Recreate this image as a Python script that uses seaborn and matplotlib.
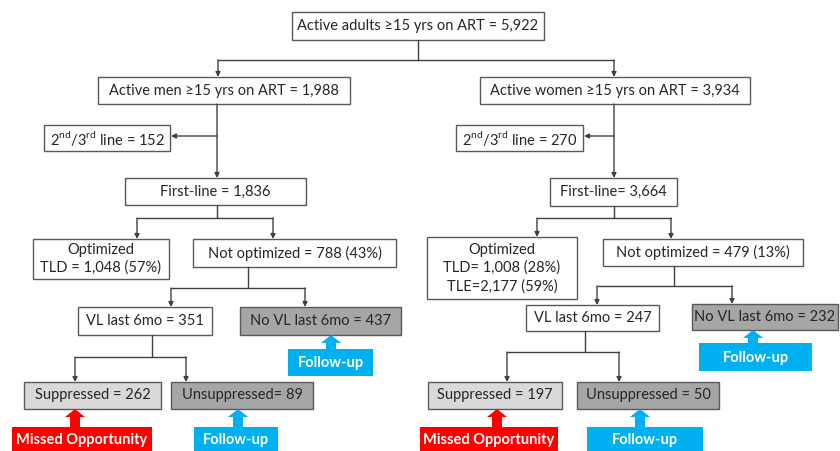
import matplotlib.pyplot as plt
import seaborn as sns
from matplotlib.patches import Rectangle, Polygon

sns.set_theme(style="white")
plt.rcParams["font.family"] = ["Lato", "DejaVu Sans"]
plt.rcParams["mathtext.fontset"] = "custom"
plt.rcParams["mathtext.rm"] = "Lato"

total_adults = 5922
groups = ["men", "women"]
group_n = [1988, 3934]
second_third_n = [152, 270]
first_line_n = [1836, 3664]
tld_n = [1048, 1008]
tld_pct = [57, 28]
tle_n = [None, 2177]
tle_pct = [None, 59]
not_opt_n = [788, 479]
not_opt_pct = [43, 13]
vl_n = [351, 247]
no_vl_n = [437, 232]
suppressed_n = [262, 197]
unsuppressed_n = [89, 50]

LINE = "#404040"
EDGE = "#595959"
LIGHT = "#d9d9d9"
DARK = "#a6a6a6"
RED = "#ff0000"
BLUE = "#00b0f0"
FS = 10.5

fig = plt.figure(figsize=(8.4, 4.51), dpi=100)
ax = fig.add_axes([0, 0, 1, 1])
ax.set_xlim(0, 840)
ax.set_ylim(451, 0)
ax.axis("off")


def box(x0, y0, x1, y1, text, face="white"):
    ax.add_patch(Rectangle((x0, y0), x1 - x0, y1 - y0, facecolor=face,
                           edgecolor=EDGE, lw=1))
    ax.text((x0 + x1) / 2, (y0 + y1) / 2, text, ha="center", va="center",
            fontsize=FS, color="#262626", linespacing=1.35)


def arrow(x0, y0, x1, y1):
    ax.annotate("", xy=(x1, y1), xytext=(x0, y0),
                arrowprops=dict(arrowstyle="-|>", mutation_scale=7, lw=1,
                                color=LINE, shrinkA=0, shrinkB=0))


def split(px, py, jy, children):
    # parent drops to a junction line, then arrows go down to each child
    ax.plot([px, px], [py, jy], color=LINE, lw=1)
    xs = [c[0] for c in children]
    ax.plot([min(xs), max(xs)], [jy, jy], color=LINE, lw=1)
    for cx, cy in children:
        arrow(cx, jy, cx, cy)


def callout(x0, y0, x1, y1, ax_c, tip, text, face):
    hw, sw, hh = 10, 5, 8
    pts = [(x0, y0), (ax_c - sw, y0), (ax_c - sw, tip + hh), (ax_c - hw, tip + hh),
           (ax_c, tip), (ax_c + hw, tip + hh), (ax_c + sw, tip + hh),
           (ax_c + sw, y0), (x1, y0), (x1, y1), (x0, y1)]
    ax.add_patch(Polygon(pts, closed=True, facecolor=face, edgecolor="none"))
    ax.text((x0 + x1) / 2, (y0 + min(y1, 451)) / 2 + 1, text, ha="center",
            va="center", fontsize=FS, color="white", fontweight="bold")


def fmt(n):
    return f"{n:,}"


# top box
box(292, 12, 544, 40, f"Active adults \u226515 yrs on ART = {fmt(total_adults)}")
split(418, 40, 60, [(218, 77), (614, 77)])

# men branch
m = 0
box(98, 77, 350, 104, f"Active men \u226515 yrs on ART = {fmt(group_n[m])}")
arrow(217, 104, 217, 178)
arrow(217, 136, 171, 136)
box(44, 125, 170, 151, r"2$^{\mathrm{nd}}$/3$^{\mathrm{rd}}$ line = " + fmt(second_third_n[m]))
box(125, 178, 306, 205, f"First-line = {fmt(first_line_n[m])}")
split(217, 205, 218, [(137, 239), (273, 239)])
box(33, 239, 169, 279, f"Optimized\nTLD = {fmt(tld_n[m])} ({tld_pct[m]}%)")
box(193, 239, 396, 267, f"Not optimized = {not_opt_n[m]} ({not_opt_pct[m]}%)")
split(248, 267, 288, [(171, 307), (305, 307)])
box(78, 307, 212, 335, f"VL last 6mo = {vl_n[m]}")
box(240, 307, 401, 335, f"No VL last 6mo = {no_vl_n[m]}", DARK)
callout(288, 349, 373, 376, 331, 335, "Follow-up", BLUE)
split(152, 335, 357, [(75, 382), (186, 382)])
box(24, 382, 161, 409, f"Suppressed = {suppressed_n[m]}", LIGHT)
box(171, 382, 313, 409, f"Unsuppressed= {unsuppressed_n[m]}", DARK)
callout(12, 427, 152, 460, 75, 409, "Missed Opportunity", RED)
callout(194, 427, 278, 460, 238, 409, "Follow-up", BLUE)

# women branch
w = 1
box(480, 77, 750, 104, f"Active women \u226515 yrs on ART = {fmt(group_n[w])}")
arrow(614, 104, 614, 178)
arrow(614, 136, 584, 136)
box(456, 125, 583, 151, r"2$^{\mathrm{nd}}$/3$^{\mathrm{rd}}$ line = " + fmt(second_third_n[w]))
box(550, 178, 677, 206, f"First-line= {fmt(first_line_n[w])}")
split(614, 206, 218, [(537, 237), (671, 239)])
box(427, 237, 577, 299, f"Optimized\nTLD= {fmt(tld_n[w])} ({tld_pct[w]}%)\n"
                         f"TLE={fmt(tle_n[w])} ({tle_pct[w]}%)")
box(603, 239, 803, 266, f"Not optimized = {not_opt_n[w]} ({not_opt_pct[w]}%)")
split(674, 266, 286, [(597, 305), (732, 304)])
box(526, 305, 659, 331, f"VL last 6mo = {vl_n[w]}")
box(692, 304, 838, 330, f"No VL last 6mo = {no_vl_n[w]}", DARK)
callout(699, 343, 812, 371, 753, 330, "Follow-up", BLUE)
split(585, 331, 352, [(507, 382), (619, 382)])
box(428, 382, 562, 409, f"Suppressed = {suppressed_n[w]}", LIGHT)
box(577, 382, 719, 409, f"Unsuppressed = {unsuppressed_n[w]}", DARK)
callout(420, 427, 558, 460, 497, 409, "Missed Opportunity", RED)
callout(587, 427, 703, 460, 640, 409, "Follow-up", BLUE)

fig.savefig("out.png", dpi=100, facecolor="white")
